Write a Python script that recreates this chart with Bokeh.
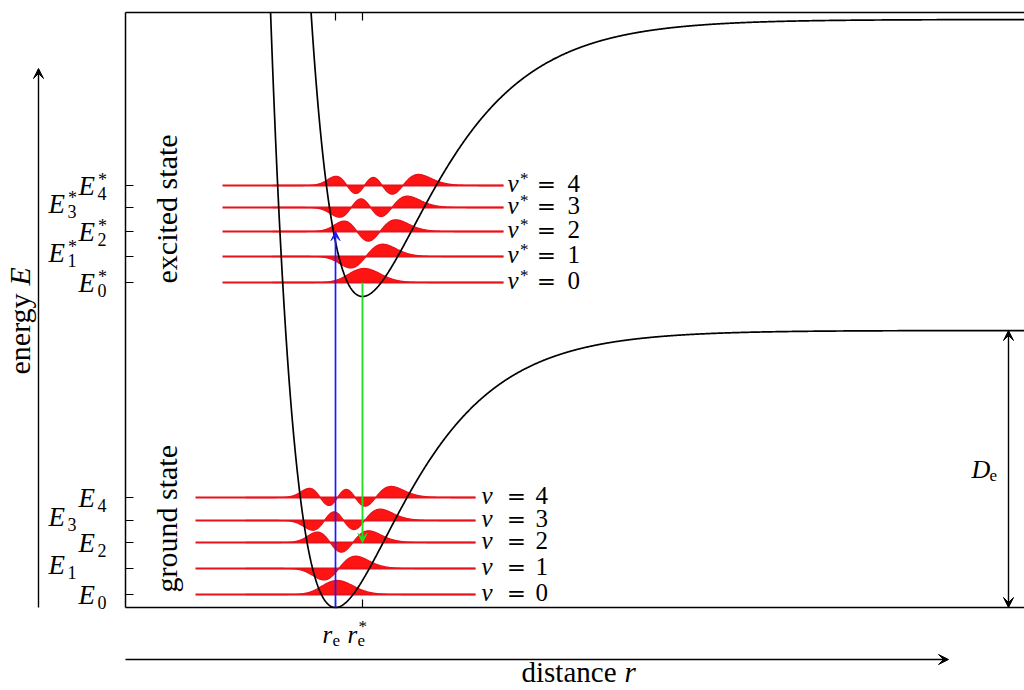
import numpy as np
from bokeh.plotting import figure
from bokeh.models import Range1d, Arrow, VeeHead
from bokeh.core.properties import value
from bokeh.embed import file_html
from bokeh.resources import INLINE

# ---------------- values ----------------
r_eq = [2.10, 2.37]          # r_e (ground), r_e* (excited)
V_min = [0.00, 3.11]         # bottom of each potential well
D_e = [2.77, 2.77]           # well depths (dissociation energies)
morse_a = [1.39, 1.36]       # Morse range parameters
ground_levels = [0.13, 0.39, 0.65, 0.87, 1.10]    # E_0 .. E_4
excited_levels = [3.25, 3.51, 3.76, 4.00, 4.22]   # E*_0 .. E*_4
vib_numbers = ["0", "1", "2", "3", "4"]
ground_line_r = [0.70, 3.50]
excited_line_r = [0.97, 3.78]
reduced_mass = 165.0
wf_peak = 0.14
absorption = [2.10, 0.00, 3.76]   # r, start E, end E  (blue)
emission = [2.37, 3.25, 0.65]     # r, start E, end E  (green)
E_top = 5.95
r_axis_end = 8.23
E_axis_end = 5.39

SERIF = value("Liberation Serif")
RED = "#e8121b"

p = figure(width=1024, height=690, x_range=Range1d(-1.25, 8.99), y_range=Range1d(-0.83, 6.07),
           output_backend="svg", toolbar_location=None, min_border=0,
           x_axis_location=None, y_axis_location=None)
p.grid.visible = False
p.outline_line_color = None
p.background_fill_color = "white"
p.border_fill_color = "white"


def morse(r, i):
    return V_min[i] + D_e[i] * (1 - np.exp(-morse_a[i] * (r - r_eq[i]))) ** 2


def eigenstates(i, n, span):
    re, a, De = r_eq[i], morse_a[i], D_e[i]
    r = np.linspace(re - 0.9, re + 2.4, 700)
    dr = r[1] - r[0]
    V = De * (1 - np.exp(-a * (r - re))) ** 2
    k = 1.0 / (2 * reduced_mass * dr ** 2)
    N = len(r)
    H = np.diag(V + 2 * k) - k * np.eye(N, k=1) - k * np.eye(N, k=-1)
    w, vecs = np.linalg.eigh(H)
    psi = vecs[:, :n] / np.sqrt(dr)
    for j in range(n):
        col = psi[:, j]
        idx = np.where(np.abs(col) > 0.2 * np.abs(col).max())[0][-1]
        if col[idx] < 0:
            psi[:, j] = -col
    psi *= wf_peak / np.abs(psi[:, 0]).max()
    keep = (r >= span[0]) & (r <= span[1])
    return r[keep], psi[keep]


# ---- vibrational levels and wavefunctions ----
for i, (levels, span) in enumerate([(ground_levels, ground_line_r), (excited_levels, excited_line_r)]):
    r, psi = eigenstates(i, len(levels), span)
    for j, E in enumerate(levels):
        p.varea(x=r, y1=np.full_like(r, E), y2=E + psi[:, j], fill_color="red", fill_alpha=0.92)
        p.line(r, E + psi[:, j], line_color=RED, line_width=1.3)
    p.segment(x0=[span[0]] * len(levels), y0=levels, x1=[span[1]] * len(levels), y1=levels,
              line_color=RED, line_width=2.2)

# ---- potential curves ----
for i in range(2):
    d_top = -np.log(1 + np.sqrt((E_top - V_min[i]) / D_e[i])) / morse_a[i]
    r = np.linspace(r_eq[i] + d_top, 9.1, 1500)
    p.line(r, morse(r, i), line_color="black", line_width=1.7)

# ---- transitions ----
p.add_layout(Arrow(end=VeeHead(size=9, fill_color="#1a1aff", line_color="#1a1aff"),
                   x_start=absorption[0], y_start=absorption[1], x_end=absorption[0], y_end=absorption[2],
                   line_color="#1a1aff", line_width=1.7))
p.add_layout(Arrow(end=VeeHead(size=9, fill_color="#22dd22", line_color="#22dd22"),
                   x_start=emission[0], y_start=emission[1], x_end=emission[0], y_end=emission[2],
                   line_color="#22dd22", line_width=1.9))

# ---- frame and ticks ----
p.segment(x0=[0, 0, 0], y0=[0, E_top, 0], x1=[9.1, 9.1, 0], y1=[0, E_top, E_top],
          line_color="black", line_width=1.5)
all_levels = ground_levels + excited_levels
p.segment(x0=[0] * len(all_levels), y0=all_levels, x1=[0.08] * len(all_levels), y1=all_levels,
          line_color="black", line_width=1.2)
p.segment(x0=r_eq + r_eq, y0=[0, 0, E_top, E_top], x1=r_eq + r_eq, y1=[0.08, 0.08, E_top - 0.08, E_top - 0.08],
          line_color="black", line_width=1.2)

# ---- outer axis arrows ----
p.add_layout(Arrow(end=VeeHead(size=10, fill_color="black", line_color="black"),
                   x_start=-0.87, y_start=0.0, x_end=-0.87, y_end=E_axis_end,
                   line_color="black", line_width=1.4))
p.add_layout(Arrow(end=VeeHead(size=10, fill_color="black", line_color="black"),
                   x_start=0.0, y_start=-0.52, x_end=r_axis_end, y_end=-0.52,
                   line_color="black", line_width=1.4))
p.add_layout(Arrow(start=VeeHead(size=10, fill_color="black", line_color="black"),
                   end=VeeHead(size=10, fill_color="black", line_color="black"),
                   x_start=8.83, y_start=0.0, x_end=8.83, y_end=D_e[0],
                   line_color="black", line_width=1.4))

# ---- energy labels on the left ----
for levels, star in [(ground_levels, False), (excited_levels, True)]:
    xs = [-0.47 if j % 2 == 0 else -0.77 for j in range(len(levels))]
    ys = [E + (0.0 if j % 2 == 0 else 0.04) for j, E in enumerate(levels)]
    p.text(x=xs, y=ys, text=["E"] * len(levels), text_font=SERIF, text_font_style="italic",
           text_font_size="27px", text_align="left", text_baseline="middle", text_color="black")
    p.text(x=[x + 0.19 for x in xs], y=[y - 0.075 for y in ys], text=vib_numbers, text_font=SERIF,
           text_font_size="18px", text_align="left", text_baseline="middle", text_color="black")
    if star:
        p.text(x=[x + 0.195 for x in xs], y=[y + 0.06 for y in ys], text=["*"] * len(levels),
               text_font=SERIF, text_font_size="18px", text_align="left", text_baseline="middle",
               text_color="black")

# ---- quantum number labels on the right ----
yg = [E + 0.02 for E in ground_levels]
p.text(x=[3.56] * 5, y=yg, text=["ν"] * 5, text_font=SERIF, text_font_style="italic",
       text_font_size="25px", text_align="left", text_baseline="middle", text_color="black")
p.text(x=[3.91] * 5, y=yg, text=["="] * 5, text_font=value("DejaVu Serif"),
       text_font_size="23px", text_align="center", text_baseline="middle", text_color="black")
p.text(x=[4.10] * 5, y=yg, text=vib_numbers, text_font=SERIF,
       text_font_size="25px", text_align="left", text_baseline="middle", text_color="black")
ye = [E + 0.02 for E in excited_levels]
p.text(x=[3.82] * 5, y=ye, text=["ν"] * 5, text_font=SERIF, text_font_style="italic",
       text_font_size="25px", text_align="left", text_baseline="middle", text_color="black")
p.text(x=[3.945] * 5, y=[y + 0.05 for y in ye], text=["*"] * 5, text_font=SERIF,
       text_font_size="17px", text_align="left", text_baseline="middle", text_color="black")
p.text(x=[4.21] * 5, y=ye, text=["="] * 5, text_font=value("DejaVu Serif"),
       text_font_size="23px", text_align="center", text_baseline="middle", text_color="black")
p.text(x=[4.42] * 5, y=ye, text=vib_numbers, text_font=SERIF,
       text_font_size="25px", text_align="left", text_baseline="middle", text_color="black")

# ---- rotated state labels and axis titles ----
p.text(x=[0.41, 0.41, -1.06], y=[3.24, 0.15, 2.33], text=["excited state", "ground state", "energy"],
       angle=np.pi / 2, text_font=SERIF, text_font_size="30px", text_align="left",
       text_baseline="middle", text_color="black")
p.text(x=[-1.06], y=[3.22], text=["E"], angle=np.pi / 2, text_font=SERIF, text_font_style="italic",
       text_font_size="30px", text_align="left", text_baseline="middle", text_color="black")
p.text(x=[3.96], y=[-0.645], text=["distance"], text_font=SERIF, text_font_size="29px",
       text_align="left", text_baseline="middle", text_color="black")
p.text(x=[4.99], y=[-0.645], text=["r"], text_font=SERIF, text_font_style="italic",
       text_font_size="29px", text_align="left", text_baseline="middle", text_color="black")

# ---- r_e, r_e* labels ----
p.text(x=[1.97, 2.22], y=[-0.27, -0.27], text=["r", "r"], text_font=SERIF, text_font_style="italic",
       text_font_size="25px", text_align="left", text_baseline="middle", text_color="black")
p.text(x=[2.07, 2.32], y=[-0.33, -0.33], text=["e", "e"], text_font=SERIF,
       text_font_size="17px", text_align="left", text_baseline="middle", text_color="black")
p.text(x=[2.33], y=[-0.19], text=["*"], text_font=SERIF,
       text_font_size="17px", text_align="left", text_baseline="middle", text_color="black")

# ---- D_e label ----
p.text(x=[8.46], y=[1.38], text=["D"], text_font=SERIF, text_font_style="italic",
       text_font_size="26px", text_align="left", text_baseline="middle", text_color="black")
p.text(x=[8.64], y=[1.32], text=["e"], text_font=SERIF,
       text_font_size="17px", text_align="left", text_baseline="middle", text_color="black")

open("out.html", "w").write(file_html(p, INLINE))
